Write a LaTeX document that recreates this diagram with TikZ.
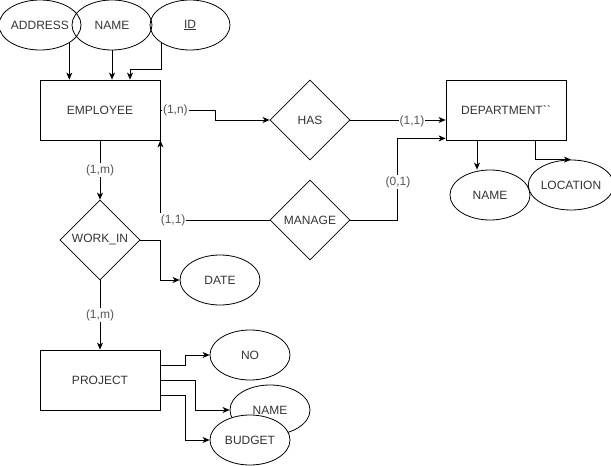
\documentclass[tikz,border=0pt]{standalone}
\usepackage{fontspec}
\setmainfont{Liberation Sans}
\newfontfamily\rawfont{Liberation Sans}[Ligatures=TeXOff]
\usetikzlibrary{shapes.geometric,arrows.meta}
\definecolor{txt}{RGB}{51,51,51}
\definecolor{lbltxt}{RGB}{85,85,85}
\begin{document}
\begin{tikzpicture}[x=1pt,y=-1pt,
  every node/.style={font=\fontsize{12}{14}\selectfont, text=txt},
  ent/.style={draw, rectangle, minimum width=120pt, minimum height=60pt, inner sep=0pt},
  attr/.style={draw, ellipse, minimum width=80pt, minimum height=50pt, inner sep=0pt},
  rel/.style={draw, diamond, aspect=1, minimum width=80pt, minimum height=80pt, inner sep=0pt},
  lbl/.style={fill=white, inner sep=1pt, text=lbltxt},
  arr/.style={-{Stealth[length=7pt,width=6pt,inset=2pt]}},
  line width=0.8pt]
\useasboundingbox (0,0) rectangle (611,466);
% attributes of EMPLOYEE
\node[attr] (addr) at (40,25) {ADDRESS};
\node[attr] (ename) at (112,25) {NAME};
\node[attr] (id) at (190,25) {\underline{ID}};
% entities
\node[ent] (emp) at (100,110) {EMPLOYEE};
\node[ent] (dept) at (506,110) {\rawfont DEPARTMENT``};
\node[ent] (proj) at (100,380) {PROJECT};
% relationships
\node[rel] (has) at (310,120) {HAS};
\node[rel] (manage) at (310,220) {MANAGE};
\node[rel] (workin) at (100,240) {WORK\_IN};
% other attributes
\node[attr] (date) at (220,280) {DATE};
\node[attr] (dname) at (490,195) {NAME};
\node[attr] (loc) at (571,185) {LOCATION};
\node[attr] (no) at (250,355) {NO};
\node[attr] (pname) at (270,410) {NAME};
\node[attr, fill=white] (budget) at (250,440) {BUDGET};
% connectors: employee attributes
\draw[arr] (addr.south east) -- (addr.south east |- emp.north);
\draw[arr] (ename.south) -- (ename.south |- emp.north);
\draw[arr] (id.south west) |- ([xshift=30pt,yshift=10pt]emp.north) -- ([xshift=30pt]emp.north);
% employee - has - department
\draw[arr] (emp.east) -- ([xshift=55pt]emp.east) |- (has.west);
\node[lbl] (l1n) at ([xshift=15pt]emp.east) {(1,n)};
\draw[arr] (has.east) -- (has.east -| dept.west);
\node[lbl] (l11a) at (412,121) {(1,1)};
% manage
\draw[arr] (manage.east) -| ([xshift=-48pt,yshift=2pt]dept.south west) -- ([yshift=2pt]dept.south west);
\node[lbl] (l01) at (398,182) {(0,1)};
\draw[arr] (manage.west) -| (emp.south east);
\node[lbl, anchor=west] (l11b) at ([xshift=-1pt]manage.west -| emp.east) {(1,1)};
% work_in
\draw[arr] (emp.south) -- node[lbl] (l1m) {(1,m)} (workin.north);
\draw[arr] (workin.east) -- ++(20,0) |- (date.west);
\draw[arr] (workin.south) -- node[lbl] (l1m2) {(1,m)} (proj.north);
% project attributes
\draw[arr] ([yshift=15pt]proj.east) -- ++(25,0) |- (no.west);
\draw[arr] (proj.east) -- ++(35,0) |- (pname.west);
\draw[arr] ([yshift=-15pt]proj.east) -- ++(25,0) |- (budget.west);
% department attributes
\draw[arr] ([xshift=-29pt]dept.south) -- ([xshift=-29pt]dept.south |- dname.north);
\draw[arr] ([xshift=29pt]dept.south) |- (loc.north);
\end{tikzpicture}
\end{document}
